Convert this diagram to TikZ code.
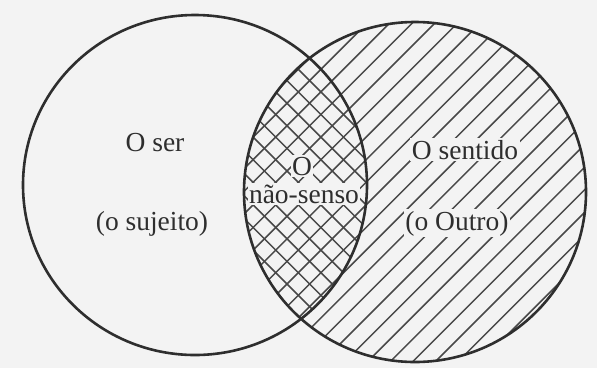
\documentclass[tikz,border=0pt]{standalone}
\usepackage{fontspec}
\setmainfont{Liberation Serif}
\definecolor{bg}{HTML}{F3F3F3}
\definecolor{ink}{HTML}{2E2E2E}
\definecolor{hatch}{HTML}{484848}
\begin{document}
\begin{tikzpicture}[x=1pt,y=-1pt,
  outline/.style={draw=ink,line width=2.6pt},
  hatchline/.style={draw=hatch,line width=1.5pt},
  lbl/.style={font=\fontsize{27.5}{32}\selectfont,text=ink,fill=bg,inner sep=1.5pt,anchor=base}]
\fill[bg] (0,0) rectangle (597,368);
\useasboundingbox (0,0) rectangle (597,368);
% hatching of the right circle
\begin{scope}
  \clip (415,192) ellipse [x radius=171,y radius=170];
  \foreach \i in {0,...,44}{
    \pgfmathsetmacro\c{232+\i*22.6}
    \draw[hatchline] (\c,0) -- (\c-400,400);
  }
\end{scope}
% cross hatching of the lens
\begin{scope}
  \clip (195,185) ellipse [x radius=172,y radius=170];
  \clip (415,192) ellipse [x radius=171,y radius=170];
  \foreach \i in {0,...,20}{
    \pgfmathsetmacro\c{-110+\i*22.6}
    \draw[hatchline] (\c,0) -- (\c+400,400);
  }
\end{scope}
% labels
\node[lbl] (ser) at (155,151) {O ser};
\node[lbl] (sujeito) at (152,230) {(o sujeito)};
\node[lbl] (o) at (302,175) {O};
\node[lbl] (naosenso) at (304,203) {não-senso};
\node[lbl] (sentido) at (465,159) {O sentido};
\node[lbl] (outro) at (457,230) {(o Outro)};
% circles
\draw[outline] (195,185) ellipse [x radius=172,y radius=170];
\draw[outline] (415,192) ellipse [x radius=171,y radius=170];
\end{tikzpicture}
\end{document}
